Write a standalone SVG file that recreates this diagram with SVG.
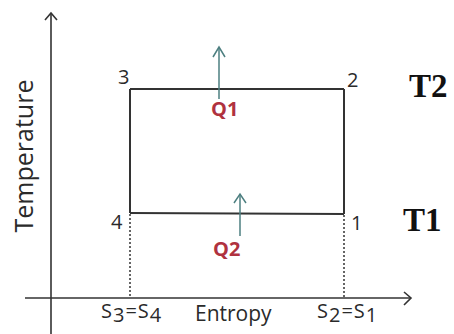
<svg xmlns="http://www.w3.org/2000/svg" width="454" height="334" viewBox="0 0 454 334">
<style>
.ax{stroke:#333;stroke-width:1.6;fill:none}
.cyc{stroke:#333;stroke-width:2;fill:none}
.dot{stroke:#333;stroke-width:1.5;stroke-dasharray:2 2;fill:none}
.heat{stroke:#4d7f80;stroke-width:1.5;fill:none}
.lbl{font-family:"Open Sans","DejaVu Sans",sans-serif;fill:#2a2a2a}
.pt{font-size:20px}
.tt{font-family:"Liberation Serif","Times New Roman",serif;font-weight:bold;font-size:33px;fill:#111}
.q{font-family:"Open Sans","DejaVu Sans",sans-serif;font-weight:bold;font-size:20px;fill:#b0323f}
</style>
<rect width="454" height="334" fill="#fff"/>
<g id="axes">
<line class="ax" x1="51" y1="14" x2="51" y2="334"/>
<polyline class="ax" points="45,20 51,13 57,20"/>
<line class="ax" x1="25" y1="298" x2="410" y2="298"/>
<polyline class="ax" points="404,292 411,298 404,305"/>
<text class="lbl" font-size="25" transform="translate(33,156) rotate(-90)" text-anchor="middle">Temperature</text>
<text class="lbl" font-size="21" x="195" y="321">Entropy</text>
</g>
<g id="connectors">
<line class="cyc" x1="130" y1="89" x2="344" y2="89"/>
<line class="cyc" x1="344" y1="89" x2="344" y2="214"/>
<line class="cyc" x1="344" y1="214" x2="130" y2="213"/>
<line class="cyc" x1="130" y1="213" x2="130" y2="89"/>
<line class="dot" x1="130" y1="214" x2="130" y2="298"/>
<line class="dot" x1="344" y1="215" x2="344" y2="298"/>
<line class="heat" x1="219" y1="47" x2="219" y2="99"/>
<polyline class="heat" points="213,57 219,47 225,57"/>
<line class="heat" x1="240" y1="194" x2="240" y2="236"/>
<polyline class="heat" points="234,203 240,194 246,203"/>
</g>
<g id="node-3"><text class="lbl pt" x="118" y="84">3</text></g>
<g id="node-2"><text class="lbl pt" x="347" y="87">2</text></g>
<g id="node-4"><text class="lbl pt" x="111" y="229">4</text></g>
<g id="node-1"><text class="lbl pt" x="351" y="230">1</text></g>
<g id="T2"><text class="tt" x="409" y="97">T2</text></g>
<g id="T1"><text class="tt" x="403" y="231">T1</text></g>
<g id="Q1"><text class="q" x="211" y="116">Q1</text></g>
<g id="Q2"><text class="q" x="213" y="256">Q2</text></g>
<g id="s34"><text class="lbl" font-size="20" x="101" y="318" letter-spacing="1">S<tspan dy="4">3</tspan><tspan dy="-4">=S</tspan><tspan dy="4">4</tspan></text></g>
<g id="s21"><text class="lbl" font-size="20" x="317" y="318" letter-spacing="1">S<tspan dy="4">2</tspan><tspan dy="-4">=S</tspan><tspan dy="4">1</tspan></text></g>
</svg>
